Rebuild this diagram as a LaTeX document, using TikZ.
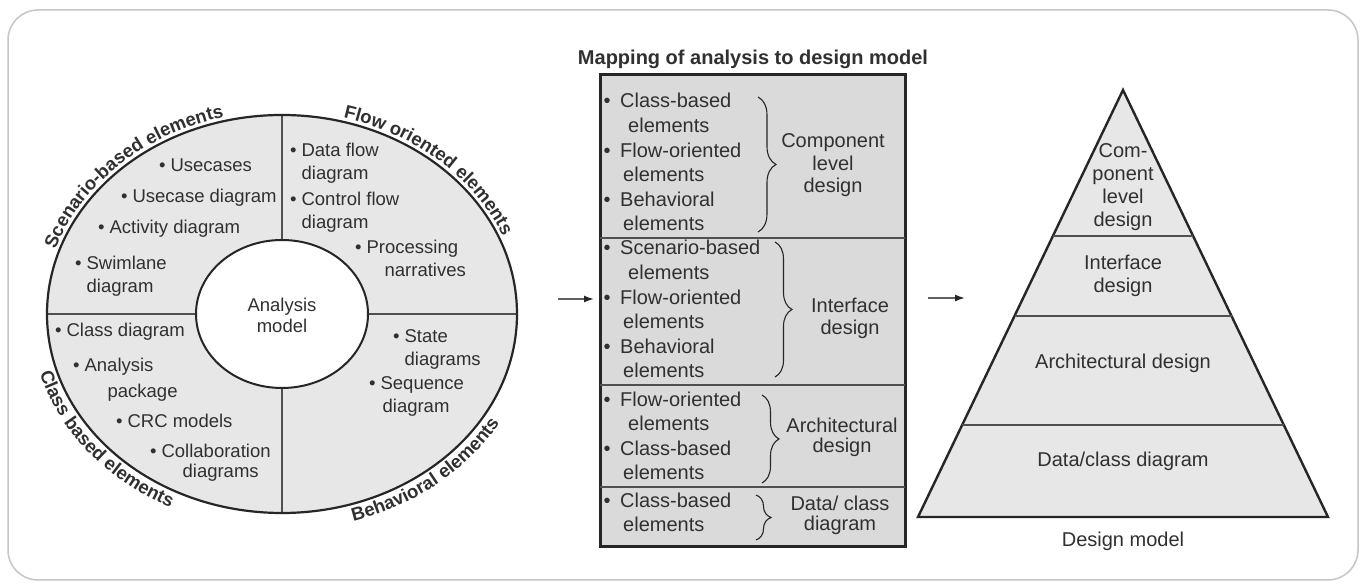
\documentclass[tikz,border=0pt]{standalone}
\usepackage{fontspec}
\setmainfont{Liberation Sans}
\usetikzlibrary{decorations.text,decorations.pathreplacing,arrows.meta}
\definecolor{ink}{HTML}{262626}
\definecolor{txt}{HTML}{303030}
\definecolor{fillA}{HTML}{E7E7E7}
\definecolor{fillB}{HTML}{DADADA}
\definecolor{framec}{HTML}{C6C6C6}
\definecolor{divc}{HTML}{505050}
\newcommand{\bulind}{\phantom{\textbullet\ }}
\newcommand{\bb}{\textbullet\hspace{9.5pt}}
\newcommand{\arcfont}{\bfseries\fontsize{18.5}{20}\selectfont}
\begin{document}
\begin{tikzpicture}[x=1pt,y=1pt,
  item/.style={anchor=base west, inner sep=0pt, align=left, text=txt, font=\fontsize{18.5}{23.5}\selectfont},
  boxitem/.style={anchor=base west, inner sep=0pt, align=left, text=txt, font=\fontsize{20}{24.6}\selectfont},
  lbl/.style={anchor=base, inner sep=0pt, align=center, text=txt, font=\fontsize{20}{22.5}\selectfont},
  clbl/.style={anchor=base, inner sep=0pt, align=center, text=txt, font=\fontsize{18.5}{21}\selectfont},
  ttl/.style={anchor=base, inner sep=0pt, text=txt, font=\bfseries\fontsize{20}{22}\selectfont},
  arclbl/.style={decorate, decoration={text along path, text={|\arcfont|#1}, text align=center, text color=txt}},
  quad/.style={draw=divc, line width=1.5pt},
  brc/.style={draw=ink, line width=1.1pt, decorate, decoration={brace, amplitude=#1, aspect=0.5}},
  arr/.style={draw=gray!75!black, line width=1.6pt, -{Latex[length=10pt,width=7pt,color=ink]}},
  pdiv/.style={draw=divc, line width=2pt}
]
\useasboundingbox (0,0) rectangle (1366,585);
\fill[white] (0,0) rectangle (1366,585);
\draw[draw=framec, line width=1.5pt, rounded corners=30pt] (8,5) rectangle (1358,575);

% ---------------- analysis model ellipse
\begin{scope}[shift={(282,271)}]
  \fill[fillA] (0,0) ellipse [x radius=235pt, y radius=199pt];
  \draw[quad] (-235,0) -- (235,0);
  \draw[quad] (0,-199) -- (0,199);
  \filldraw[fill=white, draw=ink, line width=2pt] (0,0) ellipse [x radius=86pt, y radius=74pt];
  \draw[draw=ink, line width=2.2pt] (0,0) ellipse [x radius=235pt, y radius=199pt];
  \path[arclbl={Scenario-based elements}] (179:239pt and 203pt) arc[start angle=179, end angle=89, x radius=239pt, y radius=203pt];
  \path[arclbl={Flow oriented elements}] (97:239pt and 203pt) arc[start angle=97, end angle=-3, x radius=239pt, y radius=203pt];
  \path[arclbl={Class based elements}] (168:252pt and 216pt) arc[start angle=168, end angle=268, x radius=252pt, y radius=216pt];
  \path[arclbl={Behavioral elements}] (260:252pt and 216pt) arc[start angle=260, end angle=360, x radius=252pt, y radius=216pt];
\end{scope}

% base anchor = baseline of the LAST line
\node[item] (uc) at (158.8,413) {\textbullet\ Usecases};
\node[item] (ucd) at (120.8,382) {\textbullet\ Usecase diagram};
\node[item] (act) at (97.8,351) {\textbullet\ Activity diagram};
\node[item] (swim) at (74.8,292) {\textbullet\ Swimlane\\\bulind diagram};
\node[item] (dfd) at (289.8,405) {\textbullet\ Data flow\\\bulind diagram};
\node[item] (cfd) at (289.8,356) {\textbullet\ Control flow\\\bulind diagram};
\node[item] (proc) at (354.8,308) {\textbullet\ Processing\\\bulind\hspace*{18pt}narratives};
\node[item] (cls) at (54.8,248) {\textbullet\ Class diagram};
\node[item] (anp) at (72.8,187) {\textbullet\ Analysis\\[2.5pt]\bulind\hspace*{23pt}package};
\node[item] (crc) at (115.8,157) {\textbullet\ CRC models};
\node[item] (colab) at (149.8,107) {\textbullet\ Collaboration\\[-3.5pt]\bulind\hspace*{21pt}diagrams};
\node[item] (state) at (392.8,219) {\textbullet\ State\\\bulind diagrams};
\node[item] (seq) at (368.8,172) {\textbullet\ Sequence\\\bulind\hspace*{2pt}diagram};
\node[clbl] (am) at (282,252) {Analysis\\model};

% ---------------- mapping box
\node[ttl] (title) at (753,520) {Mapping of analysis to design model};
\filldraw[fill=fillB, draw=ink, line width=3pt] (600,510) rectangle (905,38);
\draw[quad] (600,347) -- (905,347);
\draw[quad] (600,200) -- (905,200);
\draw[quad] (600,98) -- (905,98);

\node[boxitem] (s1) at (603.5,354) {\bb Class-based\\\hspace*{24.5pt}elements\\\bb Flow-oriented\\\hspace*{19.5pt}elements\\\bb Behavioral\\\hspace*{19.5pt}elements};
\node[boxitem] (s2) at (603.5,207) {\bb Scenario-based\\\hspace*{24.5pt}elements\\\bb Flow-oriented\\\hspace*{19.5pt}elements\\\bb Behavioral\\\hspace*{19.5pt}elements};
\node[boxitem] (s3) at (603.5,105) {\bb Flow-oriented\\\hspace*{24.5pt}elements\\\bb Class-based\\\hspace*{19.5pt}elements};
\node[boxitem] (s4) at (603.5,53) {\bb Class-based\\\hspace*{19.5pt}elements};

\coordinate (b1t) at (758,488); \coordinate (b1b) at (758,353);
\coordinate (b2t) at (775,343); \coordinate (b2b) at (775,208);
\coordinate (b3t) at (762,190); \coordinate (b3b) at (762,102);
\coordinate (b4t) at (756,90);  \coordinate (b4b) at (756,45);
\draw[brc=18pt] (b1t) -- (b1b);
\draw[brc=17pt] (b2t) -- (b2b);
\draw[brc=17pt] (b3t) -- (b3b);
\draw[brc=15pt] (b4t) -- (b4b);

\node[lbl] (cld) at (833,392) {Component\\level\\design};
\node[lbl] (ifd) at (850,250) {Interface\\design};
\node[lbl, font=\fontsize{20}{20.5}\selectfont] (ard) at (842,132) {Architectural\\design};
\node[lbl, font=\fontsize{20}{20.5}\selectfont] (dcd) at (840,54) {Data/ class\\diagram};

% ---------------- arrows
\coordinate (a1s) at (558,286); \coordinate (a1e) at (594,286);
\coordinate (a2s) at (928,287); \coordinate (a2e) at (965,287);
\draw[arr] (a1s) -- (a1e);
\draw[arr] (a2s) -- (a2e);

% ---------------- pyramid
\coordinate (pa) at (1123,495);
\coordinate (pl) at (918,68);
\coordinate (pr) at (1328,68);
\filldraw[fill=fillA, draw=ink, line width=2.4pt, line join=miter] (pl) -- (pa) -- (pr) -- cycle;
\draw[pdiv] (1052.9,349) -- (1193.1,349);
\draw[pdiv] (1014.5,269) -- (1231.5,269);
\draw[pdiv] (962.2,160) -- (1283.8,160);

\node[lbl, font=\fontsize{20}{23}\selectfont] (p1) at (1123,358) {Com-\\ponent\\level\\design};
\node[lbl, font=\fontsize{20}{23}\selectfont] (p2) at (1123,292) {Interface\\design};
\node[lbl] (p3) at (1123,216) {Architectural design};
\node[lbl] (p4) at (1123,118) {Data/class diagram};
\node[lbl] (dm) at (1123,38) {Design model};
\end{tikzpicture}
\end{document}
